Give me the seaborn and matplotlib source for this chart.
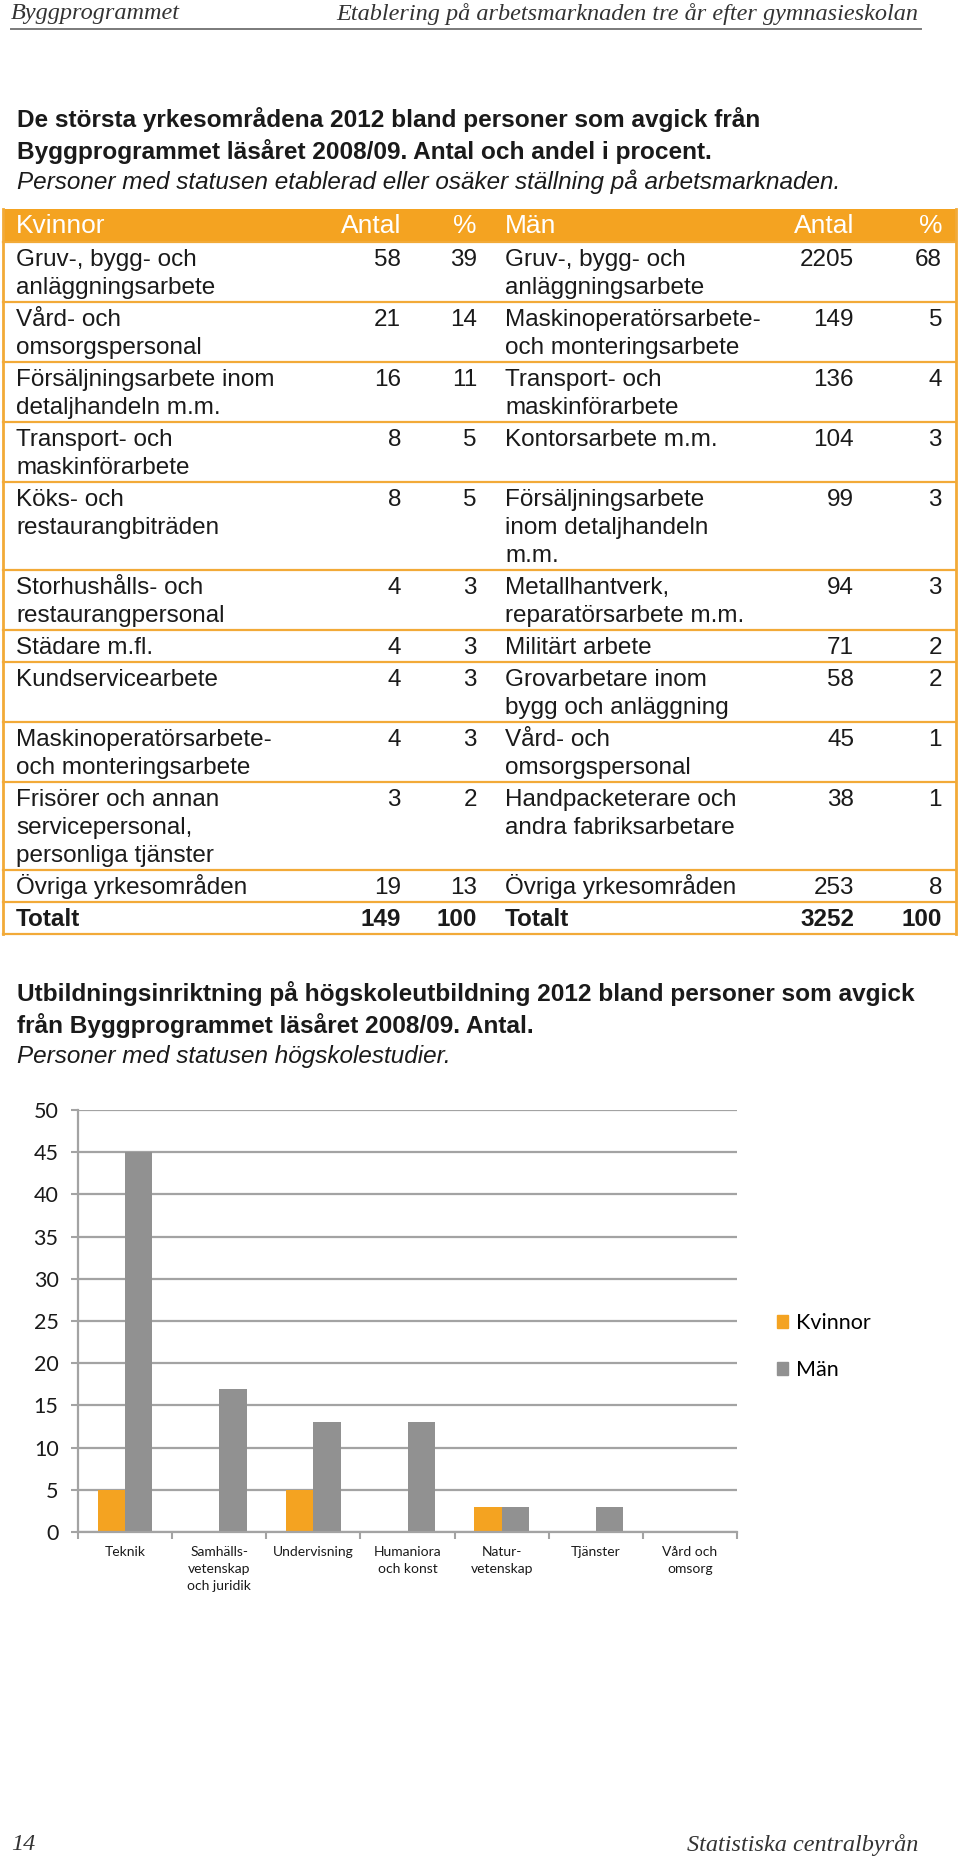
import pandas as pd
import matplotlib
matplotlib.use("Agg")
import matplotlib.pyplot as plt
import seaborn as sns
from matplotlib.patches import Rectangle, Patch

# Table: largest occupational fields 2012
women_jobs = ["Gruv-, bygg- och\nanläggningsarbete", "Vård- och\nomsorgspersonal",
              "Försäljningsarbete inom\ndetaljhandeln m.m.", "Transport- och\nmaskinförarbete",
              "Köks- och\nrestaurangbiträden", "Storhushålls- och\nrestaurangpersonal",
              "Städare m.fl.", "Kundservicearbete", "Maskinoperatörsarbete-\noch monteringsarbete",
              "Frisörer och annan\nservicepersonal,\npersonliga tjänster",
              "Övriga yrkesområden", "Totalt"]
women_count = [58, 21, 16, 8, 8, 4, 4, 4, 4, 3, 19, 149]
women_pct = [39, 14, 11, 5, 5, 3, 3, 3, 3, 2, 13, 100]
men_jobs = ["Gruv-, bygg- och\nanläggningsarbete", "Maskinoperatörsarbete-\noch monteringsarbete",
            "Transport- och\nmaskinförarbete", "Kontorsarbete m.m.",
            "Försäljningsarbete\ninom detaljhandeln\nm.m.", "Metallhantverk,\nreparatörsarbete m.m.",
            "Militärt arbete", "Grovarbetare inom\nbygg och anläggning", "Vård- och\nomsorgspersonal",
            "Handpacketerare och\nandra fabriksarbetare", "Övriga yrkesområden", "Totalt"]
men_count = [2205, 149, 136, 104, 99, 94, 71, 58, 45, 38, 253, 3252]
men_pct = [68, 5, 4, 3, 3, 3, 2, 2, 1, 1, 8, 100]
table_header = ["Kvinnor", "Antal", "%", "Män", "Antal", "%"]

# Bar chart: university field of study
fields = ["Teknik", "Samhälls-\nvetenskap\noch juridik", "Undervisning", "Humaniora\noch konst",
          "Natur-\nvetenskap", "Tjänster", "Vård och\nomsorg"]
women_hs = [5, 0, 5, 0, 3, 0, 0]
men_hs = [45, 17, 13, 13, 3, 3, 0]
groups = ["Kvinnor", "Män"]

ORANGE = "#F4A321"
LINE = "#F2AA38"
GRAY = "#919191"
GRID = "#A3A3A3"
TXT = "#1a1a1a"
SANS = "Liberation Sans"
SERIF = "Liberation Serif"

fig = plt.figure(figsize=(9.6, 18.61), dpi=100)
page = fig.add_axes([0, 0, 1, 1])
page.set_xlim(0, 960)
page.set_ylim(1861, 0)
page.axis("off")

# Running header / footer
page.text(11, 14, "Byggprogrammet", family=SERIF, style="italic", size=17.5, va="center", color="#333333")
page.text(918, 14, "Etablering på arbetsmarknaden tre år efter gymnasieskolan", family=SERIF,
          style="italic", size=17.5, va="center", ha="right", color="#333333")
page.plot([11, 921], [29, 29], color="#7a7a7a", lw=1.4)
page.text(11, 1845, "14", family=SERIF, style="italic", size=17.5, va="center", color="#333333")
page.text(918, 1845, "Statistiska centralbyrån", family=SERIF, style="italic", size=17.5,
          va="center", ha="right", color="#333333")

# Titles
page.text(17, 120, "De största yrkesområdena 2012 bland personer som avgick från",
          family=SANS, weight="bold", size=17.6, va="center", color=TXT)
page.text(17, 151, "Byggprogrammet läsåret 2008/09. Antal och andel i procent.",
          family=SANS, weight="bold", size=17.6, va="center", color=TXT)
page.text(17, 182, "Personer med statusen etablerad eller osäker ställning på arbetsmarknaden.",
          family=SANS, style="italic", size=17.5, va="center", color=TXT)

page.text(17, 994, "Utbildningsinriktning på högskoleutbildning 2012 bland personer som avgick",
          family=SANS, weight="bold", size=17.6, va="center", color=TXT)
page.text(17, 1025, "från Byggprogrammet läsåret 2008/09. Antal.",
          family=SANS, weight="bold", size=17.6, va="center", color=TXT)
page.text(17, 1056, "Personer med statusen högskolestudier.",
          family=SANS, style="italic", size=17.5, va="center", color=TXT)

# Table
left, right = 3, 956
col_x = [16, 401, 477, 505, 854, 942]
col_ha = ["left", "right", "right", "left", "right", "right"]
top = 209
page.add_patch(Rectangle((left, top), right - left, 33, color=ORANGE, lw=0))
for x, ha, label in zip(col_x, col_ha, table_header):
    page.text(x, top + 17, label, family=SANS, size=19, color="white", ha=ha, va="center")

y = top + 33
page.plot([left, right], [y, y], color=LINE, lw=1.6)
for i in range(len(women_jobs)):
    n = max(women_jobs[i].count("\n"), men_jobs[i].count("\n")) + 1
    h = 4 + 28 * n
    weight = "bold" if women_jobs[i] == "Totalt" else "normal"
    cells = [women_jobs[i], str(women_count[i]), str(women_pct[i]),
             men_jobs[i], str(men_count[i]), str(men_pct[i])]
    for x, ha, cell in zip(col_x, col_ha, cells):
        for k, line in enumerate(cell.split("\n")):
            page.text(x, y + 24 + 28 * k, line, family=SANS, size=17.5, weight=weight,
                      color=TXT, ha=ha, va="baseline")
    y += h
    page.plot([left, right], [y, y], color=LINE, lw=1.6)
page.plot([left, left], [top, y], color=LINE, lw=2)
page.plot([right, right], [top, y], color=LINE, lw=2)

# Bar chart
df = pd.DataFrame({
    "field": fields * 2,
    "group": [groups[0]] * len(fields) + [groups[1]] * len(fields),
    "antal": women_hs + men_hs,
})
ax = fig.add_axes([78 / 960, 1 - 1532 / 1861, 659 / 960, 422 / 1861])
sns.barplot(data=df, x="field", y="antal", hue="group", palette=[ORANGE, GRAY],
            width=0.58, saturation=1, linewidth=0, legend=False, ax=ax)
ax.set_xlim(-0.5, len(fields) - 0.5)
ax.set_ylim(0, 50)
ax.set_yticks(range(0, 51, 5))
ax.set_xlabel("")
ax.set_ylabel("")
ax.grid(axis="y", color=GRID, lw=1.6)
ax.set_axisbelow(True)
for s in ["top", "right"]:
    ax.spines[s].set_visible(False)
for s in ["left", "bottom"]:
    ax.spines[s].set_color(GRID)
    ax.spines[s].set_linewidth(1.6)
ax.tick_params(axis="y", length=5, width=1.5, color=GRID, pad=9, labelsize=15.5, labelcolor=TXT)
ax.tick_params(axis="x", which="major", length=0, pad=10, labelsize=10, labelcolor=TXT)
ax.set_xticks([i - 0.5 for i in range(len(fields) + 1)], minor=True)
ax.tick_params(axis="x", which="minor", length=5, width=1.5, color=GRID)
for t in ax.get_yticklabels():
    t.set_family("Lato")
for t in ax.get_xticklabels():
    t.set_family("Lato")
    t.set_linespacing(1.5)
    t.set_va("top")

handles = [Patch(color=c, label=g) for c, g in zip([ORANGE, GRAY], groups)]
ax.legend(handles=handles, loc="center left", bbox_to_anchor=(1.06, 0.44), frameon=False,
          prop={"family": "Lato", "size": 15.5}, handlelength=0.55, handleheight=0.55,
          handletextpad=0.35, labelspacing=1.25, borderpad=0, borderaxespad=0)

fig.savefig("out.png", dpi=100, facecolor="white")
